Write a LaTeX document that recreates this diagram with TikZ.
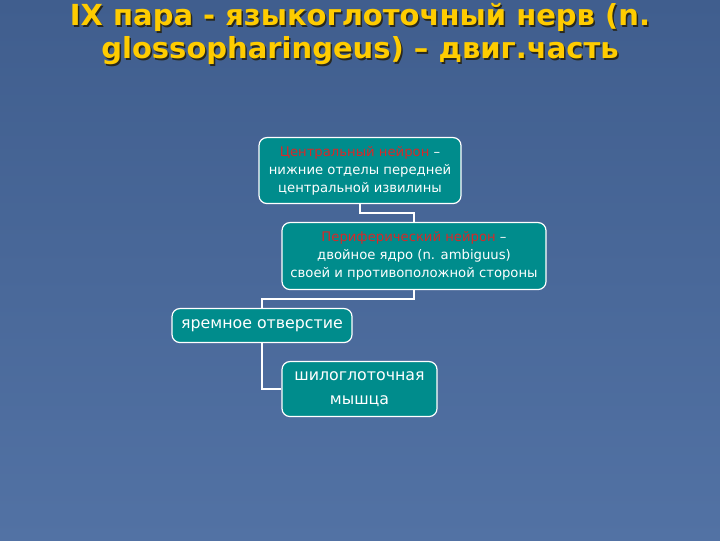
\documentclass[tikz,border=0pt]{standalone}
\usepackage{fontspec}
\setmainfont{DejaVu Sans}
\usetikzlibrary{positioning}
\definecolor{bgtop}{RGB}{64,94,142}
\definecolor{bgbottom}{RGB}{82,114,164}
\definecolor{boxteal}{RGB}{0,140,140}
\definecolor{titleyellow}{RGB}{255,204,0}
\definecolor{titleshadow}{RGB}{40,40,30}
\definecolor{neuronred}{RGB}{215,40,40}
\newcommand{\nred}[1]{\textcolor{neuronred}{#1}}
\newcommand{\titletext}{IX пара - языкоглоточный нерв (n.\\glossopharingeus) – двиг.часть}

\begin{document}
\begin{tikzpicture}[x=1pt, y=-1pt,
  every node/.style={font=\fontsize{13.2}{18}\selectfont, text=white},
  tealbox/.style={draw=white, line width=1.2pt, fill=boxteal, rounded corners=8pt, align=center, inner sep=0pt},
  bigtext/.style={font=\fontsize{15.8}{24}\selectfont},
  link/.style={draw=white, line width=2pt}]
% Background
\shade[top color=bgtop, bottom color=bgbottom] (0,0) rectangle (720,540);
% Title with shadow
\node[font=\fontsize{29}{33}\bfseries\selectfont, text=titleshadow, align=center] (titleshadow) at (361.5,35) {\titletext};
\node[font=\fontsize{29}{33}\bfseries\selectfont, text=titleyellow, align=center] (title) at (360,33.5) {\titletext};
% Central neuron
\node[tealbox, minimum width=202pt, minimum height=66pt] (central) at (360,170) {\nred{Центральный нейрон} –\\нижние отделы передней\\центральной извилины};
% Peripheral neuron
\node[tealbox, minimum width=264pt, minimum height=67pt] (periph) at (414,255.5) {\nred{Периферический нейрон} –\\двойное ядро (n. ambiguus)\\своей и противоположной стороны};
% Jugular foramen
\node[tealbox, bigtext, minimum width=180pt, minimum height=34pt] (jugular) at (262,325) {яремное отверстие};
% Stylopharyngeal muscle
\node[tealbox, bigtext, minimum width=155pt, minimum height=55pt] (muscle) at (359.5,388.5) {шилоглоточная\\мышца};
% Connectors
\draw[link] (central.south) -- ++(0,9) -| (periph.north);
\draw[link] (periph.south) -- ++(0,9) -| (jugular.north);
\draw[link] (jugular.south) |- (muscle.west);
\end{tikzpicture}
\end{document}
